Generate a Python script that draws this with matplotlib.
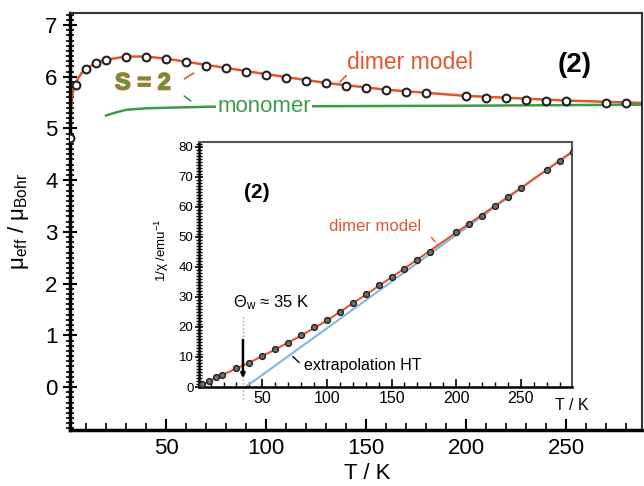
import matplotlib
matplotlib.use("Agg")
import matplotlib.pyplot as plt
import matplotlib.patheffects as pe
from matplotlib.ticker import MultipleLocator

plt.rcParams['font.family'] = ['Liberation Sans', 'DejaVu Sans']
plt.rcParams['mathtext.fontset'] = 'custom'
plt.rcParams['mathtext.rm'] = 'Liberation Sans'
plt.rcParams['mathtext.it'] = 'Liberation Sans:italic'
plt.rcParams['mathtext.bf'] = 'Liberation Sans:bold'

# main panel: mu_eff vs T
T_meas = [2, 5, 10, 15, 20, 30, 40, 50, 60, 70, 80, 90, 100, 110, 120, 130, 140,
          150, 160, 170, 180, 200, 210, 220, 230, 240, 250, 270, 280, 290]
mu_meas = [4.82, 5.85, 6.15, 6.26, 6.33, 6.39, 6.39, 6.35, 6.28, 6.20, 6.16, 6.10,
           6.04, 5.98, 5.92, 5.88, 5.82, 5.78, 5.74, 5.70, 5.68, 5.62, 5.58, 5.58,
           5.56, 5.54, 5.54, 5.50, 5.50, 5.50]
T_dimer = [2, 2.5, 3.3, 4.5, 6, 8, 10, 15, 20, 30, 40, 50, 60, 80, 100, 130, 160, 200, 250, 290]
mu_dimer = [4.82, 5.36, 5.69, 5.84, 5.97, 6.08, 6.15, 6.27, 6.33, 6.39, 6.39, 6.35,
            6.29, 6.17, 6.05, 5.88, 5.75, 5.63, 5.54, 5.49]
T_mono = [20, 25, 30, 40, 60, 72, 125, 200, 290]
mu_mono = [5.25, 5.31, 5.36, 5.39, 5.41, 5.42, 5.43, 5.44, 5.46]

# inset: 1/chi vs T
T_inv = [3, 9, 14.5, 19, 30, 40, 50, 60, 70, 80, 90, 100, 110, 120, 130, 140, 150,
         160, 170, 180, 200, 210, 220, 230, 240, 250, 270, 280, 290]
inv_meas = [1.0, 2.0, 3.3, 4.0, 6.3, 8.1, 10.2, 12.5, 14.8, 17.2, 19.8, 22.2, 25.1,
            27.9, 30.8, 33.8, 36.5, 39.4, 42.1, 45.0, 51.4, 54.3, 57.0, 60.2, 63.2,
            66.2, 72.2, 75.2, 78.2]
T_fit = [2, 10, 20, 30, 40, 60, 80, 100, 130, 160, 200, 250, 290]
inv_fit = [0.3, 2.2, 4.2, 6.2, 8.1, 12.5, 17.1, 22.1, 30.7, 39.4, 51.4, 66.2, 78.2]
T_ht = [37, 289]
inv_ht = [0.0, 78.2]
theta_w = 35

red = '#e4572e'
green = '#3c9c4c'
blue = '#82b6df'

fig = plt.figure(figsize=(6.44, 4.86), dpi=100)
ax = fig.add_axes([0.1087, 0.1152, 0.8883, 0.8578])

ax.plot(T_dimer, mu_dimer, color=red, lw=1.8, zorder=2)
ax.plot(T_mono, mu_mono, color=green, lw=1.8, zorder=2)
ax.plot(T_meas, mu_meas, 'o', ms=5.6, mfc='white', mec='#222222', mew=1.5, zorder=3)

ax.set_xlim(2, 288)
ax.set_ylim(-0.83, 7.23)
ax.xaxis.set_major_locator(MultipleLocator(50))
ax.xaxis.set_minor_locator(MultipleLocator(10))
ax.yaxis.set_major_locator(MultipleLocator(1))
ax.yaxis.set_minor_locator(MultipleLocator(0.1))
ax.set_xticks([50, 100, 150, 200, 250])
ax.tick_params(axis='x', which='major', direction='in', length=8, width=1.5,
               labelsize=16, pad=6, top=False)
ax.tick_params(axis='x', which='minor', direction='in', length=5, width=1.2, top=False)
ax.tick_params(axis='y', which='major', direction='inout', length=10, width=1.5,
               labelsize=16, pad=4, right=False)
ax.tick_params(axis='y', which='minor', direction='inout', length=6, width=1.2, right=False)
for s in ['left', 'bottom']:
    ax.spines[s].set_linewidth(2.5)
for s in ['top', 'right']:
    ax.spines[s].set_linewidth(1.5)
    ax.spines[s].set_color('#333333')

ax.set_xlabel('T / K', fontsize=16, labelpad=0)
ax.xaxis.set_label_coords(0.52, -0.08)
ax.set_ylabel('μ$_{\\rm eff}$ / μ$_{\\rm Bohr}$', fontsize=16)
ax.yaxis.set_label_coords(-0.068, 0.5)

ax.text(172, 6.28, 'dimer model', color=red, fontsize=16.5, ha='center', va='center')
ax.annotate('', xy=(136, 5.86), xytext=(141, 6.06),
            arrowprops=dict(arrowstyle='-', color=red, lw=1.2))
ax.text(254.5, 6.23, '(2)', fontsize=20, fontweight='bold', ha='center', va='center')
ax.text(38.5, 5.88, 'S = 2', color='#5f9a38', fontsize=17, fontweight='bold',
        ha='center', va='center',
        path_effects=[pe.withStroke(linewidth=1.2, foreground='#d8642e')])
ax.annotate('', xy=(58, 5.93), xytext=(65, 6.1),
            arrowprops=dict(arrowstyle='-', color=red, lw=1.2))
ax.annotate('', xy=(58, 5.66), xytext=(63.5, 5.5),
            arrowprops=dict(arrowstyle='-', color=green, lw=1.2))
ax.text(99, 5.43, 'monomer', color=green, fontsize=16, ha='center', va='center',
        bbox=dict(facecolor='white', edgecolor='none', pad=1), zorder=4)

# inset
ins = fig.add_axes([0.309, 0.2037, 0.579, 0.5041], zorder=5)
ins.set_facecolor('white')
ins.plot(T_ht, inv_ht, color=blue, lw=1.5, zorder=2)
ins.plot(T_fit, inv_fit, color=red, lw=1.5, zorder=3)
ins.plot(T_inv, inv_meas, 'o', ms=4.2, mfc='#7a6a68', mec='#222222', mew=1.0, zorder=4)
ins.plot([theta_w, theta_w], [-4, 23.5], color='#999999', lw=1, ls=':', clip_on=False)
ins.annotate('', xy=(theta_w, 2.0), xytext=(theta_w, 16.6),
             arrowprops=dict(arrowstyle='-|>', color='black', lw=1.8, mutation_scale=6))

ins.set_xlim(1, 289.5)
ins.set_ylim(0, 81.5)
ins.set_xticks([50, 100, 150, 200, 250])
ins.xaxis.set_minor_locator(MultipleLocator(10))
ins.yaxis.set_major_locator(MultipleLocator(10))
ins.yaxis.set_minor_locator(MultipleLocator(1))
ins.tick_params(axis='x', which='major', direction='in', length=6, width=1.2,
                labelsize=11.5, pad=3, top=False)
ins.tick_params(axis='x', which='minor', direction='in', length=3.5, width=1, top=False)
ins.tick_params(axis='y', which='major', direction='inout', length=6, width=1.2,
                labelsize=9.5, pad=1, right=False)
ins.tick_params(axis='y', which='minor', direction='inout', length=4, width=1, right=False)
for s in ['left', 'bottom']:
    ins.spines[s].set_linewidth(1.8)
for s in ['top', 'right']:
    ins.spines[s].set_linewidth(1.5)
    ins.spines[s].set_color('#555555')

ins.set_ylabel('1/χ /emu$^{-1}$', fontsize=9.5, labelpad=2)
ins.yaxis.set_label_coords(-0.075, 0.56)
ins.text(1.0, -0.045, 'T / K', transform=ins.transAxes, fontsize=11.5,
         ha='center', va='top')

ins.text(45.7, 64.8, '(2)', fontsize=15, fontweight='bold', ha='center', va='center')
ins.text(137, 53.5, 'dimer model', color=red, fontsize=12, ha='center', va='center')
ins.annotate('', xy=(185, 47.6), xytext=(179.6, 50.5),
             arrowprops=dict(arrowstyle='-', color=red, lw=1))
ins.text(27, 28.2, 'Θ$_{\\rm w}$ ≈ 35 K', fontsize=12, ha='left', va='center')
ins.text(82, 7.0, 'extrapolation HT', fontsize=11.5, ha='left', va='center')
ins.annotate('', xy=(72, 10.8), xytext=(80, 7.5),
             arrowprops=dict(arrowstyle='-', color='black', lw=1))

fig.savefig('out.png', dpi=100, facecolor='white')
